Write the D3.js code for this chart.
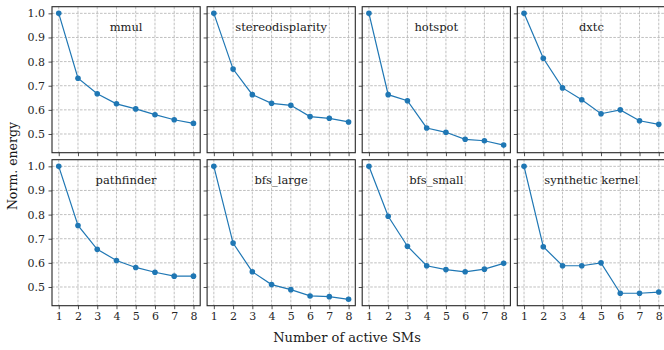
<!DOCTYPE html>
<html>
<head>
<meta charset="utf-8">
<script src="https://cdn.jsdelivr.net/npm/d3@7"></script>
<style>
  html, body { margin: 0; padding: 0; background: #fff; overflow: hidden; }
  svg { display: block; }
  svg text { font-family: "DejaVu Serif", "Liberation Serif", serif; }
</style>
</head>
<body>
<svg id="chart" width="664" height="350"></svg>
<script>
const activeSMs = [1, 2, 3, 4, 5, 6, 7, 8];
const benchmarks = ["mmul", "stereodisplarity", "hotspot", "dxtc",
                    "pathfinder", "bfs_large", "bfs_small", "synthetic kernel"];
const mmul = [1.0, 0.731, 0.667, 0.625, 0.604, 0.580, 0.559, 0.544];
const stereodisplarity = [1.0, 0.769, 0.663, 0.627, 0.619, 0.572, 0.565, 0.550];
const hotspot = [1.0, 0.663, 0.638, 0.525, 0.507, 0.478, 0.472, 0.454];
const dxtc = [1.0, 0.814, 0.691, 0.642, 0.584, 0.600, 0.555, 0.540];
const pathfinder = [1.0, 0.755, 0.656, 0.610, 0.581, 0.561, 0.545, 0.545];
const bfs_large = [1.0, 0.682, 0.563, 0.510, 0.489, 0.463, 0.460, 0.449];
const bfs_small = [1.0, 0.793, 0.669, 0.588, 0.572, 0.563, 0.574, 0.598];
const synthetic_kernel = [1.0, 0.667, 0.588, 0.588, 0.600, 0.474, 0.474, 0.479];
const seriesValues = [mmul, stereodisplarity, hotspot, dxtc,
                      pathfinder, bfs_large, bfs_small, synthetic_kernel];
const yTicks = [0.5, 0.6, 0.7, 0.8, 0.9, 1.0];
const yTickLabels = ["0.5", "0.6", "0.7", "0.8", "0.9", "1.0"];
const xLabel = "Number of active SMs";
const yLabel = "Norm. energy";

const FONT = "'DejaVu Serif', 'Liberation Serif', serif";
const svg = d3.select("#chart");
const panelW = 148.2, panelH = 146;
const left0 = 52, stepX = 155.1;
const top0 = 6.7, stepY = 153;
const color = "#1f77b4";
const frameColor = "#262626";
const gridColor = "#b0b0b0";

const yMin = 0.4225, yMax = 1.0275;
const x = d3.scaleLinear().domain([0.65, 8.35]).range([0, panelW]);
const y = d3.scaleLinear().domain([yMin, yMax]).range([panelH, 0]);

benchmarks.forEach((name, i) => {
  const col = i % 4, row = Math.floor(i / 4);
  const g = svg.append("g")
    .attr("transform", `translate(${left0 + col * stepX},${top0 + row * stepY})`);

  const grid = g.append("g");
  grid.selectAll("line.gx").data(activeSMs).enter().append("line")
    .attr("x1", d => x(d)).attr("x2", d => x(d))
    .attr("y1", 0).attr("y2", panelH)
    .attr("stroke", gridColor).attr("stroke-width", 0.8)
    .attr("stroke-dasharray", "2.6,1.4");
  grid.selectAll("line.gy").data(yTicks).enter().append("line")
    .attr("x1", 0).attr("x2", panelW)
    .attr("y1", d => y(d)).attr("y2", d => y(d))
    .attr("stroke", gridColor).attr("stroke-width", 0.8)
    .attr("stroke-dasharray", "2.6,1.4");

  const xAxis = d3.axisBottom(x).tickValues(activeSMs).tickSize(3.5).tickPadding(3.5)
    .tickFormat(row === 1 ? d3.format("d") : () => "");
  const gx = g.append("g").attr("transform", `translate(0,${panelH})`).call(xAxis);
  const yAxis = d3.axisLeft(y).tickValues(yTicks).tickSize(3.5).tickPadding(3.5)
    .tickFormat(col === 0 ? ((d, k) => yTickLabels[k]) : () => "");
  const gy = g.append("g").call(yAxis);
  [gx, gy].forEach(a => {
    a.attr("font-family", FONT).attr("font-size", 11);
    a.select(".domain").remove();
    a.selectAll(".tick line").attr("stroke", frameColor).attr("stroke-width", 0.8);
    a.selectAll(".tick text").attr("fill", "#262626")
      .attr("font-family", FONT).attr("font-size", 11);
  });

  const vals = seriesValues[i];
  const pts = activeSMs.map((s, k) => [s, vals[k]]);
  g.append("path").datum(pts)
    .attr("fill", "none").attr("stroke", color).attr("stroke-width", 1.2)
    .attr("d", d3.line().x(d => x(d[0])).y(d => y(d[1])));
  g.selectAll("circle").data(pts).enter().append("circle")
    .attr("cx", d => x(d[0])).attr("cy", d => y(d[1]))
    .attr("r", 2.8).attr("fill", color);

  g.append("rect").attr("x", 0).attr("y", 0)
    .attr("width", panelW).attr("height", panelH)
    .attr("fill", "none").attr("stroke", frameColor).attr("stroke-width", 1.1);

  g.append("text").attr("x", panelW / 2).attr("y", 24.5)
    .attr("text-anchor", "middle").attr("fill", "#1a1a1a")
    .attr("font-family", FONT).attr("font-size", 11.5).text(name);
});

svg.append("text").attr("x", 347).attr("y", 341.5)
  .attr("text-anchor", "middle").attr("fill", "#1a1a1a")
  .attr("font-family", FONT).attr("font-size", 13).text(xLabel);
svg.append("text")
  .attr("transform", "translate(16.5,166) rotate(-90)")
  .attr("text-anchor", "middle").attr("fill", "#1a1a1a")
  .attr("font-family", FONT).attr("font-size", 12.5).text(yLabel);
</script>
</body>
</html>
